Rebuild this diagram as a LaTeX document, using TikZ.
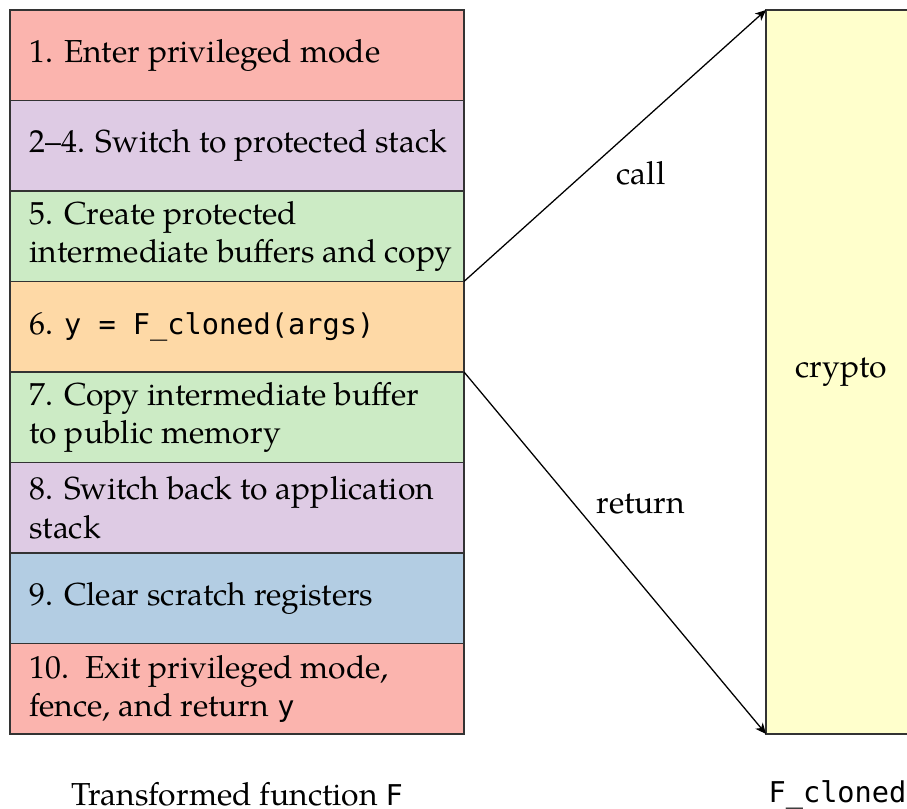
\documentclass[tikz,border=0pt]{standalone}
\usepackage{fontspec}
\setmainfont{TeX Gyre Pagella}
\setmonofont{DejaVu Sans Mono}[Scale=0.9]
\usetikzlibrary{arrows.meta}
% Pastel1 palette
\definecolor{pastelred}{HTML}{FBB4AE}
\definecolor{pastelpurple}{HTML}{DECBE4}
\definecolor{pastelgreen}{HTML}{CCEBC5}
\definecolor{pastelorange}{HTML}{FED9A6}
\definecolor{pastelblue}{HTML}{B3CDE3}
\definecolor{pastelyellow}{HTML}{FFFFCC}
\begin{document}
\begin{tikzpicture}[
  stepbox/.style={draw=black!80, line width=0.4pt, minimum width=5.017cm,
    minimum height=1cm, inner sep=0pt, outer sep=0pt, anchor=north west},
  steptext/.style={anchor=west, align=left, inner sep=0pt},
  flow/.style={line width=0.4pt, -{Stealth[length=3.4pt,width=3pt,inset=1pt]}},
  caption/.style={inner sep=0pt}
]
\useasboundingbox (0,0) rectangle (10.022,-8.939);

% steps of the transformed function
\node[stepbox, fill=pastelred]    (s1) at (0.11,-0.11) {};
\node[stepbox, fill=pastelpurple] (s2) at (s1.south west) {};
\node[stepbox, fill=pastelgreen]  (s3) at (s2.south west) {};
\node[stepbox, fill=pastelorange] (s4) at (s3.south west) {};
\node[stepbox, fill=pastelgreen]  (s5) at (s4.south west) {};
\node[stepbox, fill=pastelpurple] (s6) at (s5.south west) {};
\node[stepbox, fill=pastelblue]   (s7) at (s6.south west) {};
\node[stepbox, fill=pastelred]    (s8) at (s7.south west) {};

\node[steptext] (t1) at ([xshift=0.21cm]s1.west) {1. Enter privileged mode};
\node[steptext] (t2) at ([xshift=0.21cm]s2.west) {2--4. Switch to protected stack};
\node[steptext] (t3) at ([xshift=0.21cm]s3.west) {5. Create protected\\intermediate buffers and copy};
\node[steptext] (t4) at ([xshift=0.21cm]s4.west) {6. \texttt{y = F\_cloned(args)}};
\node[steptext] (t5) at ([xshift=0.21cm]s5.west) {7. Copy intermediate buffer\\to public memory};
\node[steptext] (t6) at ([xshift=0.21cm]s6.west) {8. Switch back to application\\stack};
\node[steptext] (t7) at ([xshift=0.21cm]s7.west) {9. Clear scratch registers};
\node[steptext] (t8) at ([xshift=0.21cm]s8.west) {10.\ \ Exit privileged mode,\\fence, and return \texttt{y}};

% cloned function
\node[draw=black!80, line width=0.4pt, fill=pastelyellow, minimum width=1.66cm,
  minimum height=8cm, anchor=north west, inner sep=0pt, outer sep=0pt] (crypto) at (8.464,-0.11) {crypto};

% control transfer
\draw[flow] (s3.south east) -- (crypto.north west);
\draw[flow] (s5.north east) -- (crypto.south west);
\node[caption] (lcall) at (7.083,-1.91) {call};
\node[caption] (lret) at (7.083,-5.57) {return};

% captions
\node[caption] (capF) at (2.62,-8.78) {Transformed function \texttt{F}};
\node[caption] (capC) at ([xshift=-0.04cm]crypto.center |- capF) {\texttt{F\_cloned}};
\end{tikzpicture}
\end{document}
